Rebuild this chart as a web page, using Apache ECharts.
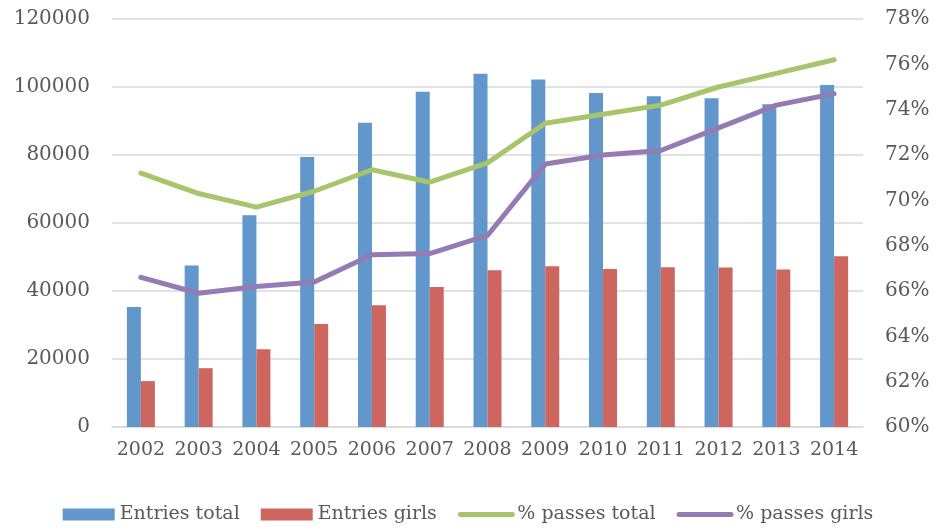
<!DOCTYPE html>
<html>
<head>
<meta charset="utf-8">
<script src="https://cdn.jsdelivr.net/npm/echarts@6/dist/echarts.min.js"></script>
<style>
html,body{margin:0;padding:0;background:#fff;}
#chart{width:936px;height:531px;}
</style>
</head>
<body>
<div id="chart"></div>
<script>
var years = ['2002','2003','2004','2005','2006','2007','2008','2009','2010','2011','2012','2013','2014'];
var entriesTotal = [35300, 47500, 62300, 79400, 89500, 98600, 103900, 102200, 98200, 97300, 96700, 94900, 100600];
var entriesGirls = [13500, 17300, 22900, 30300, 35800, 41200, 46100, 47300, 46500, 47000, 46900, 46300, 50200];
var passesTotal = [71.2, 70.3, 69.7, 70.4, 71.35, 70.8, 71.65, 73.4, 73.8, 74.2, 75.0, 75.6, 76.2];
var passesGirls = [66.6, 65.9, 66.2, 66.4, 67.6, 67.65, 68.45, 71.6, 72.0, 72.2, 73.2, 74.2, 74.7];
var leftTicks = {min: 0, max: 120000, interval: 20000};
var rightTicks = {min: 60, max: 78, interval: 2};

var FONT = 'DejaVu Serif';
var TXT = '#595959';
var C_BLUE = '#6197CA', C_RED = '#CC665F', C_GREEN = '#A8C56B', C_PURPLE = '#957BB3';
var chart = echarts.init(document.getElementById('chart'));
chart.setOption({
  animation: false,
  backgroundColor: '#ffffff',
  grid: {left: 112, right: 73, top: 19, bottom: 104},
  legend: {
    bottom: 2,
    left: 'center',
    itemWidth: 52,
    itemHeight: 12,
    itemGap: 21,
    textStyle: {fontFamily: FONT, fontSize: 19, color: TXT},
    data: [
      {name: 'Entries total', icon: 'rect'},
      {name: 'Entries girls', icon: 'rect'},
      {name: '% passes total', itemStyle: {opacity: 0}, lineStyle: {width: 5, cap: 'round', color: C_GREEN}},
      {name: '% passes girls', itemStyle: {opacity: 0}, lineStyle: {width: 5, cap: 'round', color: C_PURPLE}}
    ]
  },
  xAxis: {
    type: 'category',
    data: years,
    boundaryGap: true,
    axisLine: {lineStyle: {color: '#d9d9d9', width: 1.5}},
    axisTick: {show: false},
    axisLabel: {fontFamily: FONT, fontSize: 19, color: TXT, margin: 14, interval: 0}
  },
  yAxis: [
    {
      type: 'value', min: leftTicks.min, max: leftTicks.max, interval: leftTicks.interval,
      axisLine: {show: false}, axisTick: {show: false},
      splitLine: {lineStyle: {color: '#d9d9d9', width: 1.5}},
      axisLabel: {fontFamily: FONT, fontSize: 20, color: TXT, margin: 22,
        formatter: function (v) { return String(v); }}
    },
    {
      type: 'value', min: rightTicks.min, max: rightTicks.max, interval: rightTicks.interval,
      axisLine: {show: false}, axisTick: {show: false},
      splitLine: {show: false},
      axisLabel: {fontFamily: FONT, fontSize: 20, color: TXT, margin: 22,
        formatter: function (v) { return v + '%'; }}
    }
  ],
  series: [
    {name: 'Entries total', type: 'bar', data: entriesTotal, barWidth: 14, barGap: '0%',
      itemStyle: {color: C_BLUE}},
    {name: 'Entries girls', type: 'bar', data: entriesGirls, barWidth: 14, barGap: '0%',
      itemStyle: {color: C_RED}},
    {name: '% passes total', type: 'line', yAxisIndex: 1, data: passesTotal,
      symbol: 'none', lineStyle: {color: C_GREEN, width: 5, cap: 'round', join: 'round'},
      itemStyle: {color: C_GREEN}},
    {name: '% passes girls', type: 'line', yAxisIndex: 1, data: passesGirls,
      symbol: 'none', lineStyle: {color: C_PURPLE, width: 5, cap: 'round', join: 'round'},
      itemStyle: {color: C_PURPLE}}
  ]
});
</script>
</body>
</html>
